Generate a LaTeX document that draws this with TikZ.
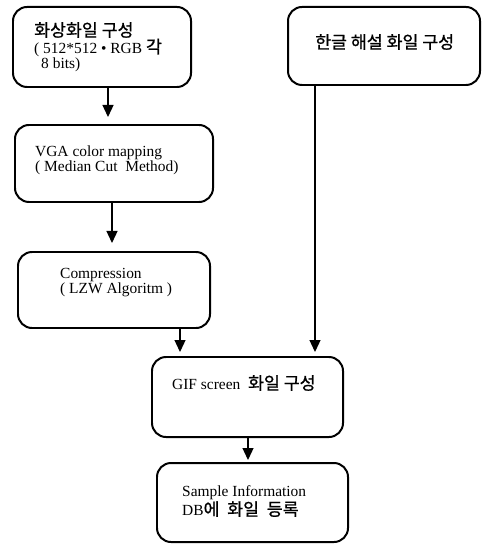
\documentclass[tikz,border=0pt]{standalone}
\usepackage{fontspec}
\setmainfont{Liberation Serif}
\newfontfamily\kofont[Scale=1.12,FakeBold=0.9]{Noto Sans CJK KR}
\newcommand{\ko}[1]{{\kofont #1}}
\usetikzlibrary{arrows.meta}

\tikzset{
  stagebox/.style={draw, line width=2pt, rounded corners=14bp, inner sep=0pt, outer sep=0pt},
  label text/.style={anchor=west, align=left, inner sep=0pt,
    font=\fontsize{15.5}{15.5}\selectfont},
  flow/.style={line width=1.3pt, -{Triangle[width=11bp,length=12bp]}},
}

\begin{document}
\begin{tikzpicture}[x=1bp, y=-1bp]
  \useasboundingbox (0,0) rectangle (482,544);

  % stage boxes
  \node[stagebox, minimum width=178bp, minimum height=80bp] (b1) at (102,47) {};
  \node[stagebox, minimum width=198bp, minimum height=77bp] (b2) at (114,163.5) {};
  \node[stagebox, minimum width=192bp, minimum height=76bp] (b3) at (114,290) {};
  \node[stagebox, minimum width=192bp, minimum height=78bp] (b4) at (384,46) {};
  \node[stagebox, minimum width=191bp, minimum height=80bp] (b5) at (247.5,397) {};
  \node[stagebox, minimum width=191bp, minimum height=79bp] (b6) at (252.5,502.5) {};

  % box labels
  \node[label text] (t1) at (34,47)
    {\ko{화상화일 구성}\\( 512*512 • RGB \ko{각}\\\hspace*{7bp}8 bits)};
  \node[label text] (t2) at (35,160.5) {VGA color mapping\\( Median Cut\ \ Method)};
  \node[label text] (t3) at (60,282.5) {Compression\\( LZW Algoritm )};
  \node[label text] (t4) at (315,42) {\ko{한글 해설 화일 구성}};
  \node[label text] (t5) at (172,383) {GIF screen \ \ko{화일 구성}};
  \node[label text] (t6) at (182,501.5) {Sample Information\\DB\ko{에 \ 화일 \ 등록}};

  % connectors
  \draw[flow, shorten >=8bp] ([xshift=6bp]b1.south) -- ([xshift=6bp]b1.south |- b2.north);
  \draw[flow, shorten >=9bp] ([xshift=-2bp]b2.south) -- ([xshift=-2bp]b2.south |- b3.north);
  \draw[flow, shorten >=5bp] ([xshift=66bp]b3.south) -- ([xshift=66bp]b3.south |- b5.north);
  \draw[flow, shorten >=5bp] ([xshift=-69bp]b4.south) -- ([xshift=-69bp]b4.south |- b5.north);
  \draw[flow, shorten >=3bp] ([xshift=0.5bp]b5.south) -- ([xshift=0.5bp]b5.south |- b6.north);
\end{tikzpicture}
\end{document}
